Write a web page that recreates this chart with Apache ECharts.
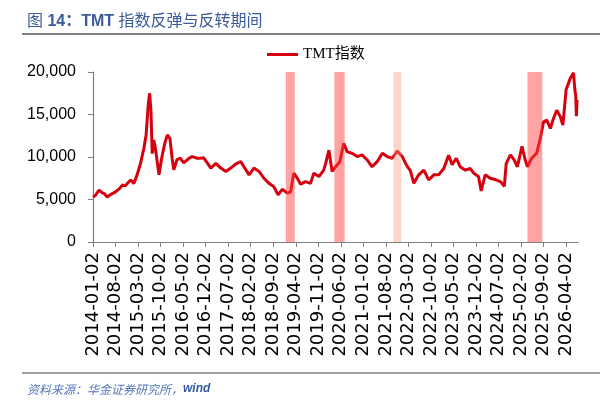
<!DOCTYPE html>
<html>
<head>
<meta charset="utf-8">
<script src="https://cdn.jsdelivr.net/npm/echarts@6/dist/echarts.min.js"></script>
<style>
html,body{margin:0;padding:0;background:#fff;}
#c{width:600px;height:405px;}
</style>
</head>
<body>
<div id="c"></div>
<script>
// ---- data ----
const seriesName = 'TMT指数';
const tickLabels = ['2014-01-02','2014-08-02','2015-03-02','2015-10-02','2016-05-02','2016-12-02','2017-07-02','2018-02-02','2018-09-02','2019-04-02','2019-11-02','2020-06-02','2021-01-02','2021-08-02','2022-03-02','2022-10-02','2023-05-02','2023-12-02','2024-07-02','2025-02-02','2025-09-02','2026-04-02'];
const dates = ['2014-01-02','2014-01-26','2014-02-28','2014-03-26','2014-04-17','2014-05-14','2014-06-08','2014-07-02','2014-08-02','2014-08-17','2014-09-11','2014-10-05','2014-11-02','2014-11-20','2014-12-23','2015-01-23','2015-02-23','2015-03-26','2015-04-26','2015-05-17','2015-06-08','2015-06-20','2015-07-02','2015-07-14','2015-07-29','2015-08-14','2015-09-02','2015-09-17','2015-10-11','2015-11-11','2015-12-05','2015-12-29','2016-01-20','2016-02-05','2016-03-05','2016-04-08','2016-05-08','2016-06-26','2016-07-26','2016-09-14','2016-10-17','2016-11-14','2016-12-02','2016-12-17','2017-01-20','2017-03-08','2017-04-23','2017-06-11','2017-07-26','2017-09-14','2017-10-29','2017-11-29','2018-01-17','2018-03-02','2018-04-20','2018-06-05','2018-07-23','2018-09-08','2018-10-17','2018-11-26','2019-01-14','2019-02-14','2019-03-14','2019-04-17','2019-05-17','2019-07-02','2019-08-20','2019-09-20','2019-11-08','2019-12-23','2020-01-11','2020-02-11','2020-02-26','2020-03-11','2020-04-14','2020-05-23','2020-06-29','2020-08-02','2020-09-17','2020-11-05','2020-12-20','2021-02-08','2021-03-23','2021-05-11','2021-06-29','2021-08-14','2021-10-02','2021-11-17','2022-01-05','2022-02-14','2022-03-20','2022-04-23','2022-06-08','2022-07-26','2022-09-11','2022-10-29','2022-12-14','2023-02-02','2023-03-17','2023-04-20','2023-05-29','2023-07-05','2023-08-23','2023-10-08','2023-11-11','2023-12-26','2024-01-20','2024-02-28','2024-04-14','2024-06-02','2024-07-20','2024-08-26','2024-09-14','2024-10-23','2024-11-28','2024-12-28','2025-02-11','2025-03-11','2025-04-02','2025-05-11','2025-06-28','2025-08-02','2025-09-02','2025-10-02','2025-11-05','2025-12-05','2026-01-05','2026-02-08','2026-03-02','2026-04-02','2026-05-11','2026-06-11','2026-06-23','2026-07-02','2026-07-08','2026-07-14'];
const values = [5300,5500,6100,5800,5700,5300,5500,5700,5900,6100,6300,6700,6600,6850,7300,6900,7900,9300,11000,12600,16300,17500,15500,10400,12000,11000,9300,7900,9800,11600,12600,12200,9800,8500,9700,9850,9300,9850,10050,9850,9850,9900,9700,9300,8700,9250,8700,8300,8700,9200,9450,8850,7900,8700,8300,7500,6900,6500,5550,6200,5750,5900,8100,7500,6800,7100,6900,8100,7700,8450,9250,10800,11000,8300,8850,9450,11600,10600,10450,10050,10250,9650,8850,9450,10450,10050,9850,10700,10050,9050,8400,6900,7900,8450,7300,7900,7900,8650,10200,9100,9850,8850,8450,8650,8100,7700,6000,7900,7500,7350,7100,6550,9250,10250,9650,8850,11250,9650,8850,9850,10450,12200,14150,14350,13350,14550,15500,14750,13750,17900,19250,19900,18000,17200,14800,16700];
const bandStarts = ['2018-12-29','2020-04-02','2021-10-14','2025-04-02'];
const bandEnds   = ['2019-03-23','2020-07-08','2021-12-26','2025-08-20'];
const bandKinds  = ['strong','strong','light','strong'];

// ---- helpers ----
function monthPos(s){
  const p = s.split('-').map(Number);
  return (p[0]-2014)*12 + (p[1]-1) + (p[2]-2)/30;
}
const lineData = dates.map((d,i)=>[monthPos(d), values[i]]);
const tickPos = tickLabels.map(monthPos);
const bandFill = {strong:'rgba(255,62,62,0.48)', light:'rgba(244,150,118,0.40)'};
const bandData = bandStarts.map((s,i)=>[
  {xAxis: monthPos(s), yAxis: 0, itemStyle:{color: bandFill[bandKinds[i]]}},
  {xAxis: monthPos(bandEnds[i]), yAxis: 20600}
]);
function fmtNum(v){ return String(v).replace(/\B(?=(\d{3})+(?!\d))/g, ','); }

const chart = echarts.init(document.getElementById('c'), null, {renderer:'canvas'});
chart.setOption({
  backgroundColor:'#fff',
  animation:false,
  title:[{
    left:22, top:9,
    text:'{a|图 }{b|14：TMT }{a|指数反弹与反转期间}',
    textStyle:{
      fontWeight:'normal',
      rich:{
        a:{fontSize:16, color:'#3B5A9A', fontFamily:'"Liberation Sans","Noto Sans CJK SC"', fontWeight:'normal'},
        b:{fontSize:16, color:'#3B5A9A', fontFamily:'"Liberation Sans","Noto Sans CJK SC"', fontWeight:'bold'}
      }
    }
  },{
    left:22, top:378,
    text:'{a|资料来源：华金证券研究所，}{b|wind}',
    textStyle:{
      fontWeight:'normal',
      rich:{
        a:{fontSize:12, color:'#5577BB', fontStyle:'italic', fontWeight:'normal', fontFamily:'"Noto Sans CJK SC"'},
        b:{fontSize:12, color:'#3558A0', fontStyle:'italic', fontWeight:'bold', fontFamily:'"Liberation Sans"'}
      }
    }
  }],
  graphic:[
    {type:'line', shape:{x1:22,y1:34,x2:600,y2:34}, style:{stroke:'#808080', lineWidth:2}},
    {type:'line', shape:{x1:22,y1:373,x2:600,y2:373}, style:{stroke:'#808080', lineWidth:1.5}}
  ],
  legend:{
    data:[{name:seriesName, icon:'rect'}],
    left:262, top:42,
    itemWidth:31, itemHeight:3, itemGap:4,
    textStyle:{fontSize:15, color:'#000', fontFamily:'"Liberation Serif","Noto Sans CJK SC"'}
  },
  grid:{left:93, right:22, top:72, bottom:163, containLabel:false},
  xAxis:{
    type:'value', min:0, max:150.7,
    axisLine:{show:true, lineStyle:{color:'#7F7F7F', width:1.2}},
    axisTick:{show:true, length:5, lineStyle:{color:'#7F7F7F'}, customValues: tickPos},
    axisLabel:{
      customValues: tickPos,
      rotate:90, margin:10,
      color:'#000', fontSize:18, fontFamily:'"DejaVu Sans"',
      formatter:function(v){
        const i = tickPos.findIndex(t=>Math.abs(t-v)<1e-6);
        return i>=0 ? tickLabels[i] : '';
      }
    },
    splitLine:{show:false}
  },
  yAxis:{
    type:'value', min:0, max:20000, interval:5000,
    axisLine:{show:true, lineStyle:{color:'#7F7F7F', width:1.2}},
    axisTick:{show:true, length:5, lineStyle:{color:'#7F7F7F'}},
    axisLabel:{color:'#000', fontSize:16, fontFamily:'"Liberation Sans"', margin:17, formatter:fmtNum},
    splitLine:{show:false}
  },
  series:[{
    name:seriesName,
    type:'line',
    data:lineData,
    symbol:'none',
    clip:false,
    lineStyle:{color:'#D7000F', width:3},
    itemStyle:{color:'#D7000F'},
    markArea:{
      silent:true, z:5,
      itemStyle:{borderWidth:0},
      label:{show:false},
      data:bandData
    }
  }]
});
</script>
</body>
</html>
